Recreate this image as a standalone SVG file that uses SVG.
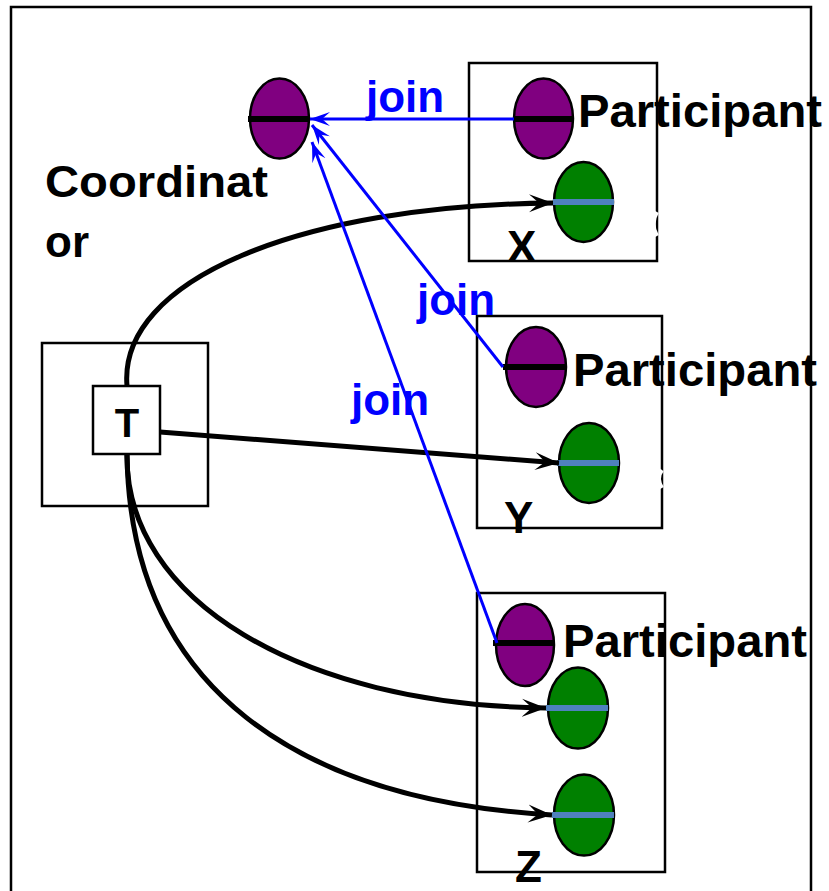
<svg xmlns="http://www.w3.org/2000/svg" width="829" height="891" viewBox="0 0 829 891">
<style>
.box{fill:none;stroke:#000;stroke-width:2.5}
.purple{fill:#800080;stroke:#000;stroke-width:2.5}
.green{fill:#008000;stroke:#000;stroke-width:2.5}
.kbar{stroke:#000;stroke-width:6}
.bbar{stroke:#4f81bd;stroke-width:6}
.lbl{font-family:"Liberation Sans",Arial,sans-serif;font-weight:bold;fill:#000}
.join{font-family:"Liberation Sans",Arial,sans-serif;font-weight:bold;fill:#0000ff;font-size:44px}
.call{fill:none;stroke:#000;stroke-width:5}
.jl{fill:none;stroke:#0000ff;stroke-width:3}
</style>
<defs>
<marker id="ak" markerUnits="userSpaceOnUse" markerWidth="26" markerHeight="20" viewBox="-24 -10 26 20" refX="0" refY="0" orient="auto">
<path d="M0,0 L-24,-9 L-14,0 L-24,9 Z" fill="#000"/>
</marker>
<marker id="ab" markerUnits="userSpaceOnUse" markerWidth="22" markerHeight="18" viewBox="-20 -9 22 18" refX="0" refY="0" orient="auto">
<path d="M0,0 L-20,-7 L-12,0 L-20,7 Z" fill="#0000ff"/>
</marker>
</defs>
<rect width="829" height="891" fill="#fff"/>
<rect x="11" y="7" width="800" height="900" fill="none" stroke="#000" stroke-width="2.5"/>

<g id="coordinator">
<ellipse class="purple" cx="279.5" cy="118.5" rx="29.5" ry="40"/>
<line class="kbar" x1="248" y1="119" x2="309" y2="119"/>
<text class="lbl" x="45" y="197" font-size="44" textLength="223" lengthAdjust="spacingAndGlyphs">Coordinat</text>
<text class="lbl" x="45" y="257" font-size="44">or</text>
</g>

<g id="T-outer">
<rect class="box" x="42" y="343" width="166" height="163"/>
</g>

<g id="participant-X">
<rect class="box" x="469" y="63" width="188" height="198"/>
<path d="M657,212 Q650,224 657,236" fill="none" stroke="#fff" stroke-width="4"/>
<ellipse class="purple" cx="543.5" cy="118.5" rx="29.5" ry="40"/>
<line class="kbar" x1="514" y1="119" x2="573" y2="119"/>
<ellipse class="green" cx="583.5" cy="202" rx="29.5" ry="40"/>
<line class="bbar" x1="553" y1="202" x2="614" y2="202"/>
<text class="lbl" x="578" y="127" font-size="46" textLength="244" lengthAdjust="spacingAndGlyphs">Participant</text>
<text class="lbl" x="507" y="262" font-size="44">X</text>
</g>

<g id="participant-Y">
<rect class="box" x="477" y="316" width="185" height="212"/>
<path d="M662,470 Q656,478 662,488" fill="none" stroke="#fff" stroke-width="4"/>
<ellipse class="purple" cx="536" cy="367" rx="30" ry="40"/>
<line class="kbar" x1="503" y1="367" x2="566" y2="367"/>
<ellipse class="green" cx="589" cy="463" rx="30" ry="40"/>
<line class="bbar" x1="557" y1="463" x2="619" y2="463"/>
<text class="lbl" x="573" y="386" font-size="46" textLength="244" lengthAdjust="spacingAndGlyphs">Participant</text>
<text class="lbl" x="504" y="533" font-size="44">Y</text>
</g>

<g id="participant-Z">
<rect class="box" x="477" y="593" width="188" height="279"/>
<ellipse class="purple" cx="525" cy="645" rx="29" ry="41"/>
<line class="kbar" x1="493" y1="643" x2="554" y2="643"/>
<ellipse class="green" cx="578" cy="708" rx="30" ry="40.5"/>
<line class="bbar" x1="546" y1="708" x2="608" y2="708"/>
<ellipse class="green" cx="584" cy="815" rx="30" ry="40.5"/>
<line class="bbar" x1="552" y1="815" x2="614" y2="815"/>
<text class="lbl" x="563" y="657" font-size="46" textLength="244" lengthAdjust="spacingAndGlyphs">Participant</text>
<text class="lbl" x="515" y="882" font-size="44">Z</text>
</g>

<g id="connectors">
<path class="call" d="M127,386 C118,280 300,205 553,203" marker-end="url(#ak)"/>
<path class="call" d="M160,432 L559,463" marker-end="url(#ak)"/>
<path class="call" d="M127,454 C125,600 300,705 546,708" marker-end="url(#ak)"/>
<path class="call" d="M127,454 C130,690 300,800 552,815" marker-end="url(#ak)"/>
<path class="jl" d="M514,119 L310,119" marker-end="url(#ab)"/>
<path class="jl" d="M503,367 L312,125" marker-end="url(#ab)"/>
<path class="jl" d="M497,643 L312,142" marker-end="url(#ab)"/>
<text class="join" x="366" y="112">join</text>
<text class="join" x="417" y="315">join</text>
<text class="join" x="351" y="415">join</text>
</g>

<g id="T">
<rect x="93" y="386" width="67" height="68" fill="#fff" stroke="#000" stroke-width="2.5"/>
<text class="lbl" x="127" y="437" font-size="40" text-anchor="middle">T</text>
</g>
</svg>
